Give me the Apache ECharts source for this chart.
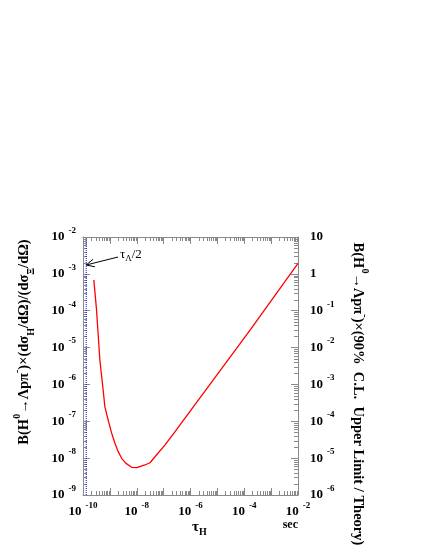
<!DOCTYPE html>
<html><head><meta charset="utf-8">
<script src="https://cdn.jsdelivr.net/npm/echarts@6/dist/echarts.min.js"></script>
<style>html,body{margin:0;padding:0;background:#fff}#c{width:429px;height:555px}</style>
</head><body><div id="c"></div>
<script>
// ---- data ----
const tauValues = [2.53e-10, 3.19e-10, 3.66e-10, 4.24e-10, 5.62e-10, 6.5e-10, 8.65e-10, 1.15e-9, 1.54e-9, 2.04e-9, 2.74e-9, 3.98e-9, 6.46e-9, 9.9e-9, 2.02e-8, 3.11e-8, 4.78e-8, 1.13e-7, 2.66e-7, 1.67e-4, 1.0e-2];
const bValues   = [6.81e-4, 1.05e-4, 2.33e-5, 4.60e-6, 7.06e-7, 2.49e-7, 1.08e-7, 4.9e-8, 2.53e-8, 1.5e-8, 9.9e-9, 7.2e-9, 5.65e-9, 5.51e-9, 6.52e-9, 7.5e-9, 1.09e-8, 2.28e-8, 5.22e-8, 3.0e-5, 1.93e-3];
const xRange = [1e-10, 1e-2];
const yRangeLeft = [1e-9, 1e-2];
const yRangeRight = [1e-6, 10];
const tauLambdaHalf = 1.316e-10;
const arrowTail = [2.0e-9, 2.86e-3];
const arrowTip = [1.316e-10, 1.74e-3];
const minorMultipliers = [2, 3, 4, 5, 6, 7, 8, 9];
const xDecadeExps = [-10, -9, -8, -7, -6, -5, -4, -3];
const yDecadeExps = [-9, -8, -7, -6, -5, -4, -3];
const leftTitle = ['B(H', '0', '→Λpπ', '-', ')×(dσ', 'H', '/dΩ)/(dσ', 'Ξ', '/dΩ)'];
const rightTitle = ['B(H', '0', '→Λpπ', '-', ')×(90%  C.L.  Upper Limit / Theory)'];
const xTitle = ['τ', 'H'];
const unitLabel = 'sec';

const SERIF = "'Liberation Serif','DejaVu Serif',serif";
const AX = '#8a8a8a';

const xMinor = [];
xDecadeExps.forEach(e => minorMultipliers.forEach(k => xMinor.push([k * Math.pow(10, e), 1e-5])));
const yMinor = [];
yDecadeExps.forEach(e => minorMultipliers.forEach(k => yMinor.push([1e-6, k * Math.pow(10, e)])));

const tickRich = {
  b: {fontSize: 13, fontWeight: 'bold', fontFamily: SERIF, color: '#000', lineHeight: 22},
  s: {fontSize: 9, fontWeight: 'bold', fontFamily: SERIF, color: '#000', lineHeight: 10, verticalAlign: 'top', padding: [0, 0, 0, 4]}
};
function expOf(v) { return Math.round(Math.log10(v)); }

const titleRich = {
  t: {fontSize: 14.5, fontWeight: 'bold', fontFamily: SERIF, fill: '#000', lineHeight: 24},
  sup: {fontSize: 10, fontWeight: 'bold', fontFamily: SERIF, fill: '#000', lineHeight: 10, verticalAlign: 'top'},
  sub: {fontSize: 10, fontWeight: 'bold', fontFamily: SERIF, fill: '#000', lineHeight: 10, verticalAlign: 'bottom'}
};
function richTitle(parts) {
  const styles = ['t', 'sup', 't', 'sup', 't', 'sub', 't', 'sub', 't'];
  return parts.map((p, i) => '{' + styles[i] + '|' + p + '}').join('');
}

const chart = echarts.init(document.getElementById('c'), null, {renderer: 'canvas'});
const baseAxis = {
  type: 'log', logBase: 10,
  axisLine: {show: true, lineStyle: {color: AX, width: 1}},
  axisTick: {show: true, inside: true, length: 7, lineStyle: {color: AX, width: 1}},
  splitLine: {show: false}
};
chart.setOption({
  animation: false,
  backgroundColor: '#fff',
  grid: {left: 83, right: 131, top: 237, bottom: 60, containLabel: false},
  xAxis: [
    Object.assign({}, baseAxis, {
      min: xRange[0], max: xRange[1], position: 'bottom',
      axisLabel: {show: true, margin: 6, interval: 0, rich: tickRich,
        formatter: v => { const e = expOf(v); return e % 2 === 0 ? '{b|10}{s|' + e + '}' : ''; }}
    }),
    Object.assign({}, baseAxis, {
      min: xRange[0], max: xRange[1], position: 'top', axisLabel: {show: false}
    })
  ],
  yAxis: [
    Object.assign({}, baseAxis, {
      min: yRangeLeft[0], max: yRangeLeft[1], position: 'left',
      axisLabel: {show: true, margin: 7, interval: 0, rich: tickRich,
        formatter: v => '{b|10}{s|' + expOf(v) + '}'}
    }),
    Object.assign({}, baseAxis, {
      min: yRangeRight[0], max: yRangeRight[1], position: 'right',
      axisLabel: {show: true, margin: 12, interval: 0, align: 'left', rich: tickRich,
        formatter: v => { const e = expOf(v); if (e === 1) return '{b|10}'; if (e === 0) return '{b|1}'; return '{b|10}{s|' + e + '}'; }}
    })
  ],
  graphic: [
    {type: 'text', x: 24, y: 342, rotation: Math.PI / 2,
      style: {text: richTitle(leftTitle), rich: titleRich, align: 'center', verticalAlign: 'middle', fontSize: 14.5, fontWeight: 'bold', fontFamily: SERIF}},
    {type: 'text', x: 358, y: 394, rotation: -Math.PI / 2,
      style: {text: richTitle(rightTitle), rich: titleRich, align: 'center', verticalAlign: 'middle', fontSize: 14.5, fontWeight: 'bold', fontFamily: SERIF}},
    {type: 'text', x: 192, y: 527,
      style: {text: '{t|' + xTitle[0] + '}{sub|' + xTitle[1] + '}', align: 'left', verticalAlign: 'middle',
        rich: {t: {fontSize: 15, fontWeight: 'bold', fontFamily: SERIF, fill: '#000', lineHeight: 20},
               sub: {fontSize: 10, fontWeight: 'bold', fontFamily: SERIF, fill: '#000', lineHeight: 10, verticalAlign: 'bottom'}}}},
    {type: 'text', x: 298, y: 524.5,
      style: {text: unitLabel, align: 'right', verticalAlign: 'middle', fontSize: 12, fontWeight: 'bold', fontFamily: SERIF, fill: '#000'}}
  ],
  series: [
    {type: 'line', xAxisIndex: 0, yAxisIndex: 0, data: tauValues.map((t, i) => [t, bValues[i]]),
      showSymbol: false, smooth: false, lineStyle: {color: '#ff0000', width: 1.3}, silent: true},
    {type: 'line', xAxisIndex: 0, yAxisIndex: 0, data: [[tauLambdaHalf, yRangeLeft[0]], [tauLambdaHalf, yRangeLeft[1]]],
      showSymbol: false, lineStyle: {color: '#0000ff', width: 1, type: 'dotted'}, silent: true},
    {type: 'custom', xAxisIndex: 0, yAxisIndex: 0, silent: true, clip: false,
      data: [[arrowTail[0], arrowTail[1], arrowTip[0], arrowTip[1]]],
      renderItem: (params, api) => {
        const a = api.coord([api.value(0), api.value(1)]);
        const b = api.coord([api.value(2), api.value(3)]);
        const ang = Math.atan2(b[1] - a[1], b[0] - a[0]);
        const L = 9, w = 0.45;
        const h1 = [b[0] - L * Math.cos(ang - w), b[1] - L * Math.sin(ang - w)];
        const h2 = [b[0] - L * Math.cos(ang + w), b[1] - L * Math.sin(ang + w)];
        const st = {stroke: '#000', lineWidth: 1, fill: null};
        return {type: 'group', children: [
          {type: 'line', shape: {x1: a[0], y1: a[1], x2: b[0], y2: b[1]}, style: st},
          {type: 'polyline', shape: {points: [h1, b, h2]}, style: st},
          {type: 'text', x: a[0] + 2, y: a[1] - 2,
            style: {text: '{t|τ}{s|Λ}{t|/2}', align: 'left', verticalAlign: 'middle',
              rich: {t: {fontSize: 13, fontFamily: SERIF, fill: '#000', lineHeight: 16},
                     s: {fontSize: 9, fontFamily: SERIF, fill: '#000', lineHeight: 9, verticalAlign: 'bottom'}}}}
        ]};
      }},
    {type: 'custom', xAxisIndex: 0, yAxisIndex: 0, silent: true, clip: false, data: xMinor,
      renderItem: (params, api) => {
        const cs = params.coordSys;
        const x = Math.round(api.coord([api.value(0), 1e-5])[0]) + 0.5;
        const st = {stroke: AX, lineWidth: 1};
        return {type: 'group', children: [
          {type: 'line', shape: {x1: x, y1: cs.y + cs.height, x2: x, y2: cs.y + cs.height - 4}, style: st},
          {type: 'line', shape: {x1: x, y1: cs.y, x2: x, y2: cs.y + 4}, style: st}
        ]};
      }},
    {type: 'custom', xAxisIndex: 0, yAxisIndex: 0, silent: true, clip: false, data: yMinor,
      renderItem: (params, api) => {
        const cs = params.coordSys;
        const y = Math.round(api.coord([1e-6, api.value(1)])[1]) + 0.5;
        const st = {stroke: AX, lineWidth: 1};
        return {type: 'group', children: [
          {type: 'line', shape: {x1: cs.x, y1: y, x2: cs.x + 4, y2: y}, style: st},
          {type: 'line', shape: {x1: cs.x + cs.width, y1: y, x2: cs.x + cs.width - 4, y2: y}, style: st}
        ]};
      }}
  ]
});
</script></body></html>
